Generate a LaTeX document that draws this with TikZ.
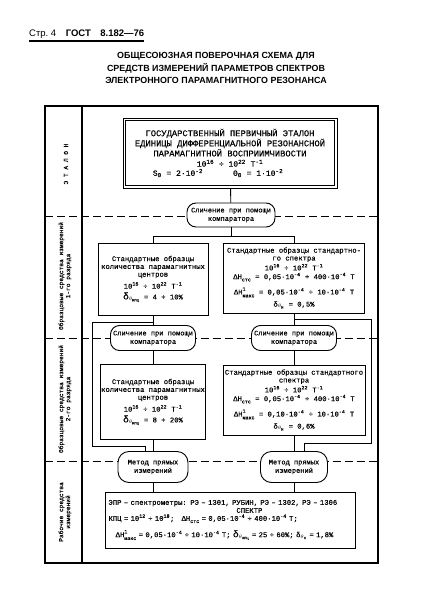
\documentclass[tikz,border=0pt]{standalone}
\usepackage{amsmath}
\usepackage{fontspec}
\setmainfont{Liberation Serif}
\newfontfamily\typew{Liberation Mono}[FakeBold=0.2]
\newfontfamily\headf{Liberation Sans}
\usetikzlibrary{positioning}
\newcommand{\rng}{÷}
\newcommand{\scr}[1]{{\fontsize{5}{5}\selectfont #1}}
\newcommand{\dHmax}{ΔH\rlap{\raisebox{3.8pt}{\scr{1}}}\raisebox{-2.8pt}{\scr{макс}}}
\newcommand{\dHstc}{ΔH\raisebox{-2.2pt}{\scr{стс}}}
\newcommand{\dKPC}{{\fontsize{9.5}{9}\selectfont δ}$_{\theta_{\text{КПЦ}}}$}
\newcommand{\dHth}{δ$_{\theta_{\text{H}}}$}
\newcommand{\tpw}[1]{10\textsuperscript{#1}}
\tikzset{
every node/.style={font=\typew\fontsize{7.2}{7.8}\selectfont}, % typewritten text everywhere
link/.style={line width=0.9pt}, % connectors between the levels
stdbox/.style={draw, line width=0.9pt, fill=white, align=center, inner sep=1pt}, % boxes of the standards
cmpnode/.style={draw, line width=0.9pt, fill=white, rounded corners=9pt, align=center, inner sep=1pt,
  font=\typew\fontsize{7}{8.4}\selectfont}, % comparison and method nodes
rankline/.style={line width=0.6pt, dash pattern=on 8pt off 4pt}, % borders between the ranks
ranklabel/.style={rotate=90, align=center, font=\typew\fontsize{6.2}{7}\selectfont}, % texts of the left column
}

\begin{document}
\begin{tikzpicture}[x=1pt, y=-1pt]
\useasboundingbox (0,0) rectangle (422,607);

% page heading and title
\node[anchor=base west, inner sep=0pt, font=\headf\fontsize{9.5}{11}\selectfont] (page) at (29,37) {Стр.\ 4\quad\textbf{ГОСТ\quad 8.182—76}};
\draw[line width=1.1pt] ([yshift=-4pt]page.base west) -- ([yshift=-4pt]page.base east);
\node[align=center, font=\headf\bfseries\fontsize{8.9}{12.5}\selectfont] (title) at (216,68)
  {ОБЩЕСОЮЗНАЯ ПОВЕРОЧНАЯ СХЕМА ДЛЯ\\СРЕДСТВ ИЗМЕРЕНИЙ ПАРАМЕТРОВ СПЕКТРОВ\\ЭЛЕКТРОННОГО ПАРАМАГНИТНОГО РЕЗОНАНСА};

% frame and ranks
\draw[rankline] (45,216) -- (378,216) (45,338) -- (378,338) (45,461) -- (378,461);
\draw[line width=1.2pt] (45,106) rectangle (378,563) (82,106) -- (82,563);
\node[ranklabel] (r0) at (66,164) {Э Т А Л О Н};
\node[ranklabel] (r1) at (65,276) {Образцовые средства измерений\\1-го разряда};
\node[ranklabel] (r2) at (65,399) {Образцовые средства измерений\\2-го разряда};
\node[ranklabel] (r3) at (65,512) {Рабочие средства\\измерений};

% standard
\node[stdbox, minimum width=214pt, minimum height=70pt, font=\typew\fontsize{8.8}{8.2}\selectfont] (etalon) at (230,153)
  {ГОСУДАРСТВЕННЫЙ ПЕРВИЧНЫЙ ЭТАЛОН\\ЕДИНИЦЫ ДИФФЕРЕНЦИАЛЬНОЙ РЕЗОНАНСНОЙ\\ПАРАМАГНИТНОЙ ВОСПРИИМЧИВОСТИ\\[2pt]
   {\fontsize{8}{9}\selectfont\tpw{16}\ \rng\ \tpw{22}\ Т\textsuperscript{-1}\hspace*{14pt}}\\[1pt]
   {\fontsize{8}{9}\selectfont S\textsubscript{0} = 2·\tpw{-2}\hspace{30pt}Θ\textsubscript{0} = 1·\tpw{-2}\hspace*{24pt}}};
\draw[line width=0.5pt] ([shift={(3,3)}]etalon.north west) rectangle ([shift={(-3,-3)}]etalon.south east);
\node[cmpnode, minimum width=88pt, minimum height=24pt] (cmp) at (231,215) {Сличение при помощи\\компаратора};

% 1st rank
\node[stdbox, minimum width=110pt, minimum height=72pt] (kpc1) at (153,279)
  {Стандартные образцы\\количества парамагнитных\\центров\\[3pt]\tpw{16}\ \rng\ \tpw{22}\ Т\textsuperscript{-1}\\[3pt]\dKPC{} = 4 \rng{} 10\%};
\node[stdbox, minimum width=141pt, minimum height=70pt] (sts1) at (294,278)
  {Стандартные образцы стандартно-\\го спектра\\[1pt]\tpw{16} \rng{} \tpw{22} Т\textsuperscript{-1}\\[1pt]
   \dHstc{} = 0,05·\tpw{-4} \rng{} 400·\tpw{-4} Т\\[5pt]\dHmax{} = 0,05·\tpw{-4} \rng{} 10·\tpw{-4} Т\\[3pt]\dHth{} = 0,5\%};
\node[cmpnode, minimum width=85pt, minimum height=25pt] (cmpL) at (153,338) {Сличение при помощи\\компаратора};
\node[cmpnode, minimum width=85pt, minimum height=25pt] (cmpR) at (294,338) {Сличение при помощи\\компаратора};

% 2nd rank
\node[stdbox, minimum width=105pt, minimum height=75pt] (kpc2) at (153,402)
  {Стандартные образцы\\количества парамагнитных\\центров\\[3pt]\tpw{16}\ \rng\ \tpw{22}\ Т\textsuperscript{-1}\\[3pt]\dKPC{} = 8 \rng{} 20\%};
\node[stdbox, minimum width=142pt, minimum height=70pt] (sts2) at (294,400)
  {Стандартные образцы стандартного\\спектра\\[1pt]\tpw{16} \rng{} \tpw{22} Т\textsuperscript{-1}\\[1pt]
   \dHstc{} = 0,05·\tpw{-4} \rng{} 400·\tpw{-4} Т\\[5pt]\dHmax{} = 0,10·\tpw{-4} \rng{} 10·\tpw{-4} Т\\[3pt]\dHth{} = 0,6\%};
\node[cmpnode, rounded corners=11pt, minimum width=70pt, minimum height=31pt] (ml) at (153,467) {Метод прямых\\измерений};
\node[cmpnode, rounded corners=11pt, minimum width=67pt, minimum height=31pt] (mr) at (294,467) {Метод прямых\\измерений};

% working instruments
\node[stdbox, text width=244pt, inner xsep=3pt, minimum height=56pt, align=left, font=\typew\fontsize{7.2}{8}\selectfont] (epr) at (230.5,520)
  {ЭПР – спектрометры: РЭ – 1301, РУБИН, РЭ – 1302, РЭ – 1306\\
   \phantom{ЭПР – спектрометры: РЭ – 1301, Р}СПЕКТР\\
   КПЦ = \tpw{12} \rng{} \tpw{18};\quad \dHstc{} = 0,05·\tpw{-4} \rng{} 400·\tpw{-4} Т;\\[6pt]
   \hspace*{1em}\dHmax{} = 0,05·\tpw{-4} \rng{} 10·\tpw{-4} Т; \dKPC{} = 25 \rng{} 60\%; \dHth{} = 1,8\%};

% connectors
\draw[link] (etalon) -- (cmp);
\draw[link] (cmp.south) -- ++(0,9) coordinate (fork0);
\draw[link] (kpc1.north) |- (fork0) -| (sts1.north);
\draw[link] (kpc1) -- (cmpL);
\draw[link] (sts1) -- (cmpR);
\draw[link] (cmpL) -- (kpc2);
\draw[link] (cmpR) -- (sts2);
\path (kpc1.south) ++(0,7) coordinate (forkL);
\path (sts1.south) ++(0,6) coordinate (forkR);
\draw[link] (forkL) -| (92,446) -| ([xshift=-8pt]ml.north);
\draw[link] (forkR) -| (371,443) -| ([xshift=10pt]mr.north);
\draw[link] (kpc2) -- (ml);
\draw[link] (sts2) -- (mr);
\draw[link] (ml) -- (ml |- epr.north);
\draw[link] (mr) -- (mr |- epr.north);
\end{tikzpicture}
\end{document}
